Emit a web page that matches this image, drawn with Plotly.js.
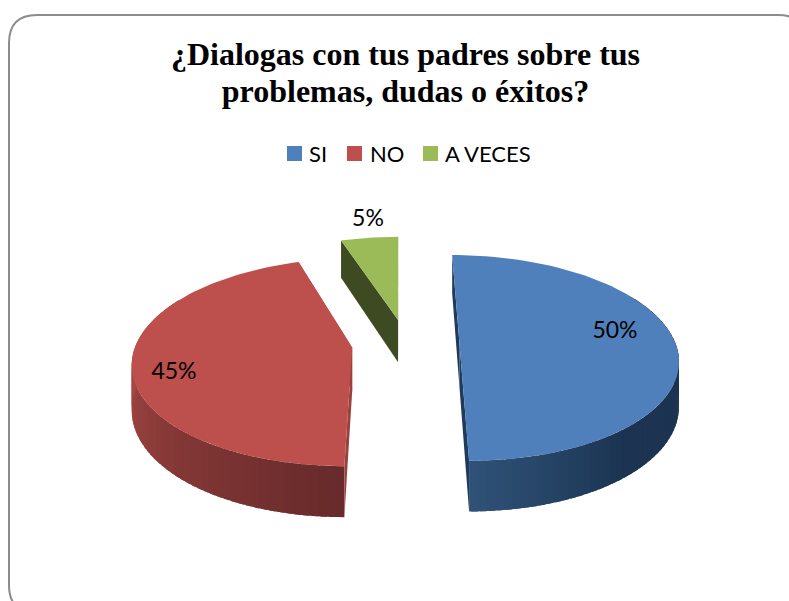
<!DOCTYPE html>
<html>
<head>
<meta charset="utf-8">
<script src="https://cdn.plot.ly/plotly-3.0.1.min.js"></script>
<style>html,body{margin:0;padding:0;background:#fff;overflow:hidden}#chart{width:789px;height:601px}</style>
</head>
<body>
<div id="chart"></div>
<script>
// ---- data ----
const categories = ['SI', 'NO', 'A VECES'];
const values = [50, 45, 5];
const titleText = '¿Dialogas con tus padres sobre tus<br>problemas, dudas o éxitos?';

// ---- styles and geometry of the perspective view ----
const topColors = ['#4f80bc', '#bd4f4c', '#9bbb59'];
const wallStops = [
  [[0, '#1c3350'], [140, '#1c3451'], [180, '#2f5278']],
  [[180, '#672a2a'], [225, '#843836'], [270, '#a84845'], [360, '#a84845']],
  [[0, '#3e4a22'], [360, '#3e4a22']]
];
const cutColors = [['#1f3a5c', '#1f3a5c'], ['#9a403d', '#9a403d'], ['#3e4a22', '#3e4a22']];
const sliceOffsets = [[60, -6.5], [-48, -2.5], [-2, -31.3]];
const vanishX = 400, baseY = 350, horizon = 730, radiusX = 218, radiusU = 102.7, depth = 44;
const labelAnchors = [[615, 332], [174, 373], [368, 220]];
const legendSquares = [294.5, 354.5, 430.5], legendTexts = [308, 369, 444], legendY = 153.5;
const titleCentre = 405.5, titleLineGap = 37;

// ---- projection ----
function project(X, U, drop) {
  const s = 1 / (1 - U / horizon);
  return [vanishX + X * s, baseY + U * s + drop * s];
}
function rim(i, deg, drop) {
  const a = deg * Math.PI / 180;
  return project(sliceOffsets[i][0] + radiusX * Math.sin(a),
                 sliceOffsets[i][1] - radiusU * Math.cos(a), drop);
}
function apex(i, drop) { return project(sliceOffsets[i][0], sliceOffsets[i][1], drop); }

function hex(c) { return [1, 3, 5].map(k => parseInt(c.substr(k, 2), 16)); }
function wallColor(i, deg) {
  const st = wallStops[i];
  let k = 0;
  while (k < st.length - 2 && deg > st[k + 1][0]) k++;
  const t = Math.min(1, Math.max(0, (deg - st[k][0]) / (st[k + 1][0] - st[k][0])));
  const a = hex(st[k][1]), b = hex(st[k + 1][1]);
  return 'rgb(' + a.map((v, j) => Math.round(v + (b[j] - v) * t)).join(',') + ')';
}
function poly(points, color) {
  const closed = points.concat([points[0]]);
  return {
    x: closed.map(p => p[0]), y: closed.map(p => p[1]),
    type: 'scatter', mode: 'lines', fill: 'toself', fillcolor: color,
    line: { width: 0 }, hoverinfo: 'skip', showlegend: false
  };
}

// ---- slices, from the values ----
const total = values.reduce((a, b) => a + b, 0);
let cursor = 0;
const spans = values.map(v => { const s = [cursor, cursor + v / total * 360]; cursor = s[1]; return s; });

const traces = [];
const drawOrder = [2, 1, 0];
drawOrder.forEach(i => {
  const [a0, a1] = spans[i];
  // outer wall, only its front part can be seen; each piece overlaps the next to hide seams
  const step = 2;
  const front0 = Math.max(a0, 60), front1 = Math.min(a1, 300);
  for (let d = front0; d < front1; d += step) {
    const e = Math.min(d + step + 1.5, front1);
    traces.push(poly([rim(i, d, 0), rim(i, e, 0), rim(i, e, depth), rim(i, d, depth)],
      wallColor(i, d + 1)));
  }
  // cut faces
  traces.push(poly([apex(i, 0), rim(i, a1, 0), rim(i, a1, depth), apex(i, depth)], cutColors[i][1]));
  traces.push(poly([apex(i, 0), rim(i, a0, 0), rim(i, a0, depth), apex(i, depth)], cutColors[i][0]));
  // top surface
  const top = [apex(i, 0)];
  for (let d = a0; d <= a1 + 1e-6; d += (a1 - a0) / 90) top.push(rim(i, d, 0));
  traces.push(poly(top, topColors[i]));
});

// legend squares
traces.push({
  x: legendSquares, y: legendSquares.map(() => legendY), type: 'scatter', mode: 'markers',
  marker: { symbol: 'square', size: 15, color: topColors }, hoverinfo: 'skip', showlegend: false
});
// percentage labels
traces.push({
  x: labelAnchors.map(p => p[0]), y: labelAnchors.map(p => p[1]), type: 'scatter', mode: 'text',
  text: values.map(v => Math.round(v / total * 100) + '%'), textposition: 'middle center',
  textfont: { family: 'Lato, sans-serif', size: 23, color: '#000' }, hoverinfo: 'skip', showlegend: false
});

const legendAnnotations = categories.map((c, i) => ({
  x: legendTexts[i], y: legendY, xref: 'x', yref: 'y', text: c, showarrow: false,
  xanchor: 'left', yanchor: 'middle', xshift: -1,
  font: { family: 'Lato, sans-serif', size: 22, color: '#000' }
}));

const layout = {
  width: 789, height: 601, margin: { l: 0, r: 0, t: 0, b: 0 },
  paper_bgcolor: '#fff', plot_bgcolor: '#fff', showlegend: false,
  title: {
    text: titleText, x: titleCentre / 789, xanchor: 'center', y: 1 - 65 / 601, yanchor: 'top',
    font: { family: '"Liberation Serif", serif', size: 32, color: '#000', weight: 700 }
  },
  xaxis: { range: [0, 789], visible: false, fixedrange: true },
  yaxis: { range: [601, 0], visible: false, fixedrange: true },
  annotations: legendAnnotations,
  shapes: [{
    type: 'path', xref: 'x', yref: 'y', layer: 'below',
    path: 'M 9 43 Q 9 15 37 15 L 778 15 Q 806 15 806 43 L 806 585 Q 806 613 778 613 L 37 613 Q 9 613 9 585 Z',
    line: { color: '#8c8c8c', width: 2 }, fillcolor: 'rgba(0,0,0,0)'
  }]
};
Plotly.newPlot('chart', traces, layout, { displayModeBar: false, staticPlot: true }).then(gd => {
  // the reference sets its two title lines closer than Plotly's fixed line height
  const lines = gd.querySelectorAll('.gtitle tspan.line');
  if (lines.length > 1) lines[1].setAttribute('dy', titleLineGap + 'px');
});
</script>
</body>
</html>
